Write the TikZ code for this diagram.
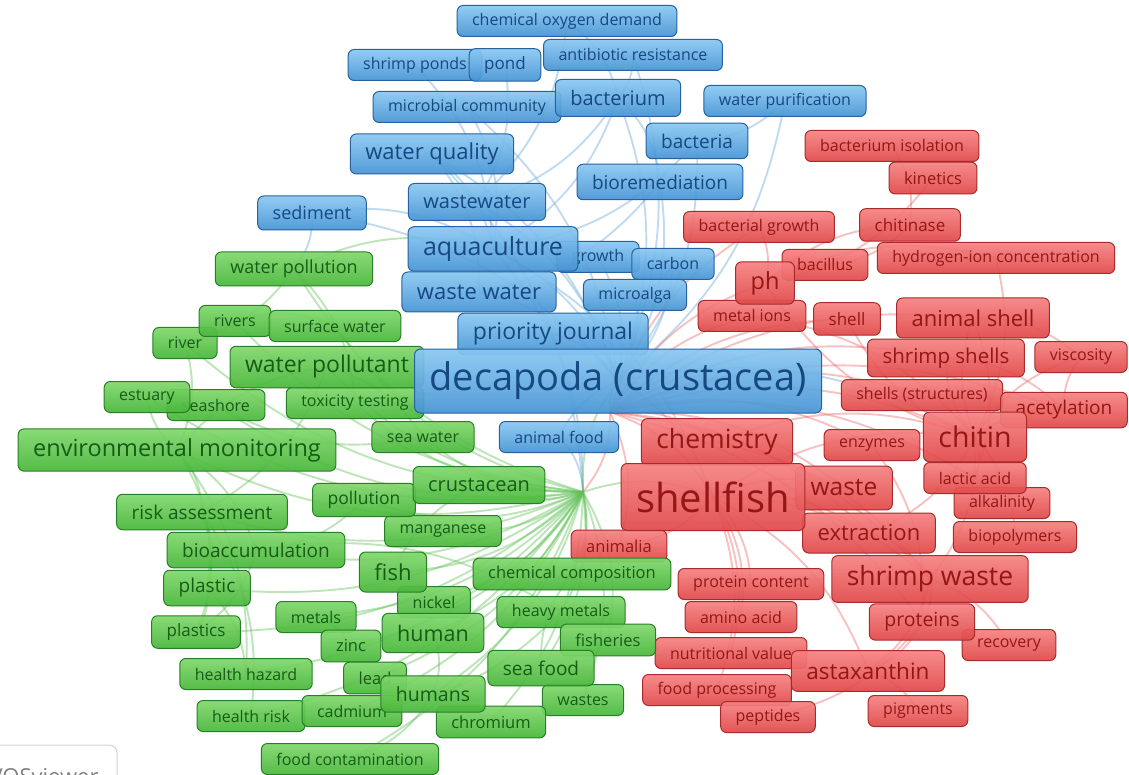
\documentclass[tikz,border=0pt]{standalone}
\usepackage{fontspec}
\setmainfont{Open Sans}
\usetikzlibrary{backgrounds}

% cluster colours
\definecolor{blutop}{RGB}{138,200,242}
\definecolor{blubot}{RGB}{70,148,212}
\definecolor{bluline}{RGB}{40,98,158}
\definecolor{blutext}{RGB}{22,72,130}
\definecolor{bluedge}{RGB}{105,168,225}
\definecolor{grntop}{RGB}{128,216,108}
\definecolor{grnbot}{RGB}{72,182,58}
\definecolor{grnline}{RGB}{38,128,38}
\definecolor{grntext}{RGB}{22,92,22}
\definecolor{grnedge}{RGB}{95,192,85}
\definecolor{redtop}{RGB}{246,130,130}
\definecolor{redbot}{RGB}{224,72,72}
\definecolor{redline}{RGB}{168,42,42}
\definecolor{redtext}{RGB}{150,22,22}
\definecolor{rededge}{RGB}{238,105,105}

\begin{document}
\begin{tikzpicture}[x=1pt, y=-1pt,
    kw/.style={draw=#1line, line width=1pt, rounded corners=6pt,
        top color=#1top, bottom color=#1bot, text=#1text,
        inner xsep=15pt, inner ysep=0pt, fill opacity=0.93, text opacity=1},
    link/.style={draw=#1edge, line width=1.9pt, opacity=0.42}]
        \useasboundingbox (0,0) rectangle (1129,775);

        % Points where many links meet (labels not shown)
        \coordinate (G_HUB) at (583,492);
        \coordinate (R_HUB) at (610,412);

        % Draw the keywords, smallest first
        \foreach \n/\c/\x/\y/\s/\t in {
            cod/blu/567/21/16/chemical oxygen demand,
            shrimpponds/blu/415/65/16/shrimp ponds,
            antibiotic/blu/633/55/16/antibiotic resistance,
            microbial/blu/467/107/16/microbial community,
            purification/blu/785/101/16/water purification,
            growth/blu/598/257/16/growth,
            carbon/blu/673/264/16/carbon,
            microalga/blu/635/295/16/microalga,
            animalfood/blu/559/437/16/animal food,
            river/grn/185/343/16/river,
            rivers/grn/235/321/16/rivers,
            surfacewater/grn/335/326/16/surface water,
            seashore/grn/216/405/16/seashore,
            estuary/grn/147/397/16/estuary,
            toxicity/grn/355/403/16/toxicity testing,
            seawater/grn/423/437/16/sea water,
            manganese/grn/443/531/16/manganese,
            nickel/grn/434/602/16/nickel,
            metals/grn/316/617/16/metals,
            heavymetals/grn/561/612/16/heavy metals,
            healthhazard/grn/246/674/16/health hazard,
            wastes/grn/583/700/16/wastes,
            healthrisk/grn/251/716/16/health risk,
            cadmium/grn/352/711/16/cadmium,
            foodcont/grn/350/759/16/food contamination,
            isolation/red/892/146/16/bacterium isolation,
            bacterialgrowth/red/759/227/16/bacterial growth,
            bacillus/red/825/265/16/bacillus,
            hydrogen/red/996/258/16/hydrogen-ion concentration,
            metalions/red/752/316/16/metal ions,
            viscosity/red/1081/357/16/viscosity,
            shells/red/922/395/16/shells (structures),
            enzymes/red/872/445/16/enzymes,
            alkalinity/red/1002/503/16/alkalinity,
            lactic/red/975/478/16/lactic acid,
            biopolymers/red/1015/537/16/biopolymers,
            proteincontent/red/751/584/16/protein content,
            aminoacid/red/741/617/16/amino acid,
            recovery/red/1009/645/16/recovery,
            nutritional/red/731/653/16/nutritional value,
            foodprocessing/red/717/690/16/food processing,
            peptides/red/768/717/16/peptides,
            pigments/red/918/711/16/pigments,
            kinetics/red/933/178/16.5/kinetics,
            animalia/red/619/546/16.5/animalia,
            chemcomp/grn/572/574/16.5/chemical composition,
            zinc/grn/351/646/16.5/zinc,
            fisheries/grn/608/640/16.5/fisheries,
            lead/grn/375/678/16.5/lead,
            chromium/grn/491/722/16.5/chromium,
            pond/blu/505/65/17/pond,
            plastics/grn/196/632/17/plastics,
            chitinase/red/910/225/17/chitinase,
            shell/red/847/319/17/shell,
            pollution/grn/364/500/17.5/pollution,
            sediment/blu/312/213/18/sediment,
            waterpollution/grn/294/269/18/water pollution,
            bacteria/blu/697/141/19/bacteria,
            bioremed/blu/660/182/19/bioremediation,
            riskassess/grn/202/512/19/risk assessment,
            bioaccum/grn/256/550/19/bioaccumulation,
            plastic/grn/207/588/19/plastic,
            seafood/grn/541/668/19/sea food,
            acetylation/red/1064/410/19/acetylation,
            humans/grn/433/694/19.5/humans,
            proteins/red/922/622/19.5/proteins,
            bacterium/blu/618/98/20/bacterium,
            wastewater/blu/477/202/20/wastewater,
            crustacean/grn/479/485/20/crustacean,
            shrimpshells/red/946/358/20.5/shrimp shells,
            human/grn/433/633/21.5/human,
            waterquality/blu/432/154/22/water quality,
            waste_water/blu/479/292/22/waste water,
            fish/grn/393/572/22/fish,
            animalshell/red/973/318/22/animal shell,
            extraction/red/869/533/22/extraction,
            astaxanthin/red/868/671/22.5/astaxanthin,
            priority/blu/553/334/23/priority journal,
            waterpollutant/grn/327/367/23/water pollutant,
            envmon/grn/177/450/23.5/environmental monitoring,
            ph/red/765/283/23.5/ph,
            waste/red/844/488/24.5/waste,
            aquaculture/blu/493/249/25/aquaculture,
            chemistry/red/717/442/26.5/chemistry,
            shrimpwaste/red/930/579/26.5/shrimp waste,
            chitin/red/975/437/28.5/chitin,
            decapoda/blu/618/381/38/decapoda (crustacea),
            shellfish/red/713/497/40/shellfish}{
            \node[kw=\c, font=\fontsize{\s}{\s}\selectfont,
                minimum height={(1.5*\s+7)*1pt}] (\n) at (\x,\y) {\t};
        }

        % Draw the links behind the keywords
        \begin{scope}[on background layer]
        \foreach \a/\b/\c in {
            antibiotic/bacterium/blu, antibiotic/decapoda/blu, cod/wastewater/blu,
            cod/bacterium/blu, shrimpponds/aquaculture/blu, pond/wastewater/blu,
            microbial/aquaculture/blu, microbial/decapoda/blu, bacterium/decapoda/blu,
            bacterium/wastewater/blu, bacterium/bioremed/blu, bacterium/aquaculture/blu,
            purification/bacteria/blu, purification/decapoda/blu, waterquality/aquaculture/blu,
            waterquality/decapoda/blu, waterquality/waste_water/blu, bacteria/decapoda/blu,
            bacteria/aquaculture/blu, bioremed/decapoda/blu, bioremed/waste_water/blu,
            sediment/aquaculture/blu, sediment/decapoda/blu, sediment/waterpollution/blu,
            wastewater/decapoda/blu, aquaculture/decapoda/blu, growth/decapoda/blu,
            carbon/decapoda/blu, carbon/microalga/blu, microalga/decapoda/blu,
            waste_water/decapoda/blu, priority/decapoda/blu, animalfood/decapoda/blu,
            aquaculture/shellfish/blu, decapoda/chitin/blu, decapoda/shellfish/blu,
            waterquality/G_HUB/blu, aquaculture/G_HUB/blu, animalfood/G_HUB/blu,
            G_HUB/waterpollution/grn, G_HUB/surfacewater/grn, G_HUB/waterpollutant/grn,
            G_HUB/toxicity/grn, G_HUB/envmon/grn, G_HUB/seawater/grn, G_HUB/crustacean/grn,
            G_HUB/pollution/grn, G_HUB/riskassess/grn, G_HUB/manganese/grn,
            G_HUB/bioaccum/grn, G_HUB/fish/grn, G_HUB/plastic/grn, G_HUB/chemcomp/grn,
            G_HUB/nickel/grn, G_HUB/metals/grn, G_HUB/heavymetals/grn, G_HUB/human/grn,
            G_HUB/zinc/grn, G_HUB/fisheries/grn, G_HUB/healthhazard/grn, G_HUB/lead/grn,
            G_HUB/seafood/grn, G_HUB/humans/grn, G_HUB/wastes/grn, G_HUB/healthrisk/grn,
            G_HUB/cadmium/grn, G_HUB/chromium/grn, G_HUB/foodcont/grn, G_HUB/estuary/grn,
            G_HUB/seashore/grn, G_HUB/river/grn, G_HUB/rivers/grn, G_HUB/plastics/grn,
            envmon/riskassess/grn, envmon/bioaccum/grn, envmon/plastic/grn,
            envmon/waterpollutant/grn, envmon/estuary/grn, riskassess/plastic/grn,
            bioaccum/plastics/grn, plastic/plastics/grn, plastic/healthhazard/grn,
            riskassess/healthrisk/grn, bioaccum/heavymetals/grn, waterpollution/river/grn,
            waterpollution/toxicity/grn, rivers/surfacewater/grn, metals/zinc/grn,
            heavymetals/cadmium/grn, human/humans/grn, humans/foodcont/grn,
            seafood/chemcomp/grn, fish/crustacean/grn, seawater/seashore/grn,
            waterpollutant/seawater/grn, G_HUB/shellfish/grn, G_HUB/decapoda/grn,
            envmon/healthhazard/grn, riskassess/plastics/grn, waterpollution/aquaculture/grn,
            waterpollutant/riskassess/grn, river/envmon/grn, pollution/bioaccum/grn,
            R_HUB/chemistry/red, R_HUB/shellfish/red, R_HUB/chitin/red, R_HUB/ph/red,
            R_HUB/animalshell/red, R_HUB/shrimpshells/red, R_HUB/shell/red,
            R_HUB/metalions/red, R_HUB/waste/red, R_HUB/extraction/red,
            R_HUB/shrimpwaste/red, R_HUB/proteins/red, R_HUB/enzymes/red,
            R_HUB/shells/red, R_HUB/acetylation/red, R_HUB/bacterialgrowth/red,
            R_HUB/lactic/red, R_HUB/decapoda/red, R_HUB/animalia/red, R_HUB/G_HUB/red,
            chitin/acetylation/red, chitin/shrimpshells/red, chitin/animalshell/red,
            chitin/viscosity/red, chitin/lactic/red, chitin/alkalinity/red,
            chitin/biopolymers/red, chitin/extraction/red, chitin/ph/red, chitin/shell/red,
            chitin/shrimpwaste/red, shrimpwaste/proteins/red, shrimpwaste/astaxanthin/red,
            shrimpwaste/recovery/red, extraction/shrimpwaste/red, astaxanthin/pigments/red,
            proteins/peptides/red, shellfish/proteincontent/red, shellfish/aminoacid/red,
            shellfish/nutritional/red, shellfish/foodprocessing/red, shellfish/animalia/red,
            shellfish/waste/red, ph/hydrogen/red, ph/bacillus/red, ph/chitinase/red,
            chitinase/bacillus/red, kinetics/ph/red, bacterialgrowth/ph/red,
            isolation/chitinase/red, animalshell/viscosity/red, hydrogen/chitin/red,
            shellfish/chitin/red, chemistry/chitin/red, proteins/astaxanthin/red,
            enzymes/proteins/red, shellfish/shrimpwaste/red, shellfish/astaxanthin/red,
            shellfish/extraction/red, chemistry/shrimpwaste/red, acetylation/viscosity/red,
            shrimpshells/acetylation/red, animalshell/lactic/red, metalions/chitin/red}{
            \draw[link=\c] (\a.center) to[bend left=20] (\b.center);
        }
        \end{scope}

        % Logo box, cut by the page edge
        \draw[gray!35, line width=1pt, rounded corners=8pt] (-20,745) rectangle (117,800);
        \node[anchor=west, text=gray, font=\fontsize{22}{22}\selectfont] (logo) at (-14,777) {VOSviewer};
\end{tikzpicture}
\end{document}
